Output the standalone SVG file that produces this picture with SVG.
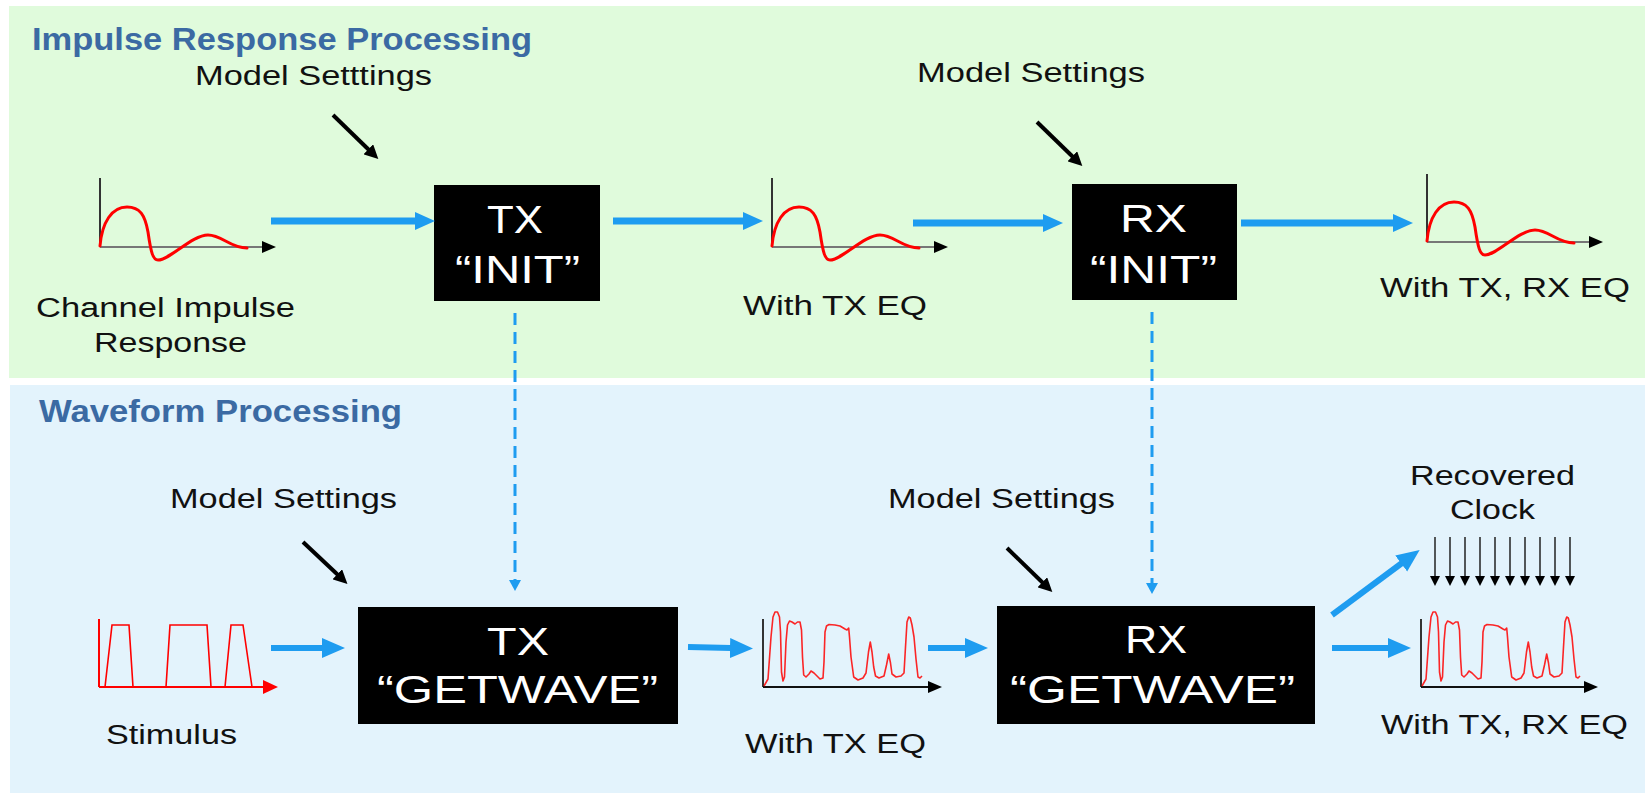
<svg xmlns="http://www.w3.org/2000/svg" width="1645" height="793" viewBox="0 0 1645 793">
<style>
.t{font-family:"Liberation Sans",Arial,sans-serif;font-size:27px;fill:#111}
.h{font-family:"Liberation Sans",Arial,sans-serif;font-size:32px;font-weight:bold;fill:#3b6aa3}
.bt{font-family:"Liberation Sans",Arial,sans-serif;font-size:39px;fill:#fff}
.box{fill:#000}
.blue{stroke:#1e9cf0;stroke-width:7;fill:none;marker-end:url(#bh)}
.blue2{stroke:#1e9cf0;stroke-width:6;fill:none;marker-end:url(#bh2)}
.dash{stroke:#1e9cf0;stroke-width:3;stroke-dasharray:12 7;fill:none;marker-end:url(#dh)}
.blk{stroke:#000;stroke-width:4;fill:none;marker-end:url(#kh)}
.clk{stroke:#222;stroke-width:1.5;fill:none;marker-end:url(#ch)}
.yax{stroke:#333;stroke-width:2;fill:none}
.xax{stroke:#777;stroke-width:2;fill:none;marker-end:url(#ah)}
.xax2{stroke:#111;stroke-width:2;fill:none;marker-end:url(#ah)}
.imp{stroke:#f00;stroke-width:3;fill:none;stroke-linecap:round}
.wav{stroke:#f00;stroke-width:1.6;fill:none;stroke-linejoin:round;stroke-opacity:0.85}
</style>
<defs>
<marker id="bh" markerUnits="userSpaceOnUse" markerWidth="20" markerHeight="20" viewBox="0 0 20 20" refX="1" refY="10" orient="auto"><path d="M0,1 L20,10 L0,19 Z" fill="#1e9cf0"/></marker>
<marker id="bh2" markerUnits="userSpaceOnUse" markerWidth="23" markerHeight="22" viewBox="0 0 23 22" refX="1" refY="11" orient="auto"><path d="M0,1 L23,11 L0,21 Z" fill="#1e9cf0"/></marker>
<marker id="dh" markerUnits="userSpaceOnUse" markerWidth="11" markerHeight="12" viewBox="0 0 11 12" refX="0" refY="6" orient="auto"><path d="M0,0 L11,6 L0,12 Z" fill="#1e9cf0"/></marker>
<marker id="kh" markerUnits="userSpaceOnUse" markerWidth="14" markerHeight="14" viewBox="0 0 14 14" refX="1" refY="7" orient="auto"><path d="M0,0 L14,7 L0,14 Z" fill="#000"/></marker>
<marker id="ch" markerUnits="userSpaceOnUse" markerWidth="10" markerHeight="10" viewBox="0 0 10 10" refX="0" refY="5" orient="auto"><path d="M0,0 L10,5 L0,10 Z" fill="#000"/></marker>
<marker id="ah" markerUnits="userSpaceOnUse" markerWidth="14" markerHeight="12" viewBox="0 0 14 12" refX="0" refY="6" orient="auto"><path d="M0,0 L14,6 L0,12 Z" fill="#000"/></marker>
<path id="impc" d="M0,-1 C2,-25 12,-40 27,-40 C40,-40 45,-32 48,-15 C51,6 53,13 58,13 C70,13 92,-12 108,-12 C122,-12 130,1 147,1"/>
<path id="wavc" d="M1,-1 L5,-8 L8,-50 L10,-70 L12,-75 L14.5,-75 L16.5,-70 L17.5,-55 L18.5,-15 L20,-6 L21.5,-10 L23,-45 L24.5,-62 L26.5,-66 L29,-65 L32,-63 L34.5,-65 L37,-65 L38.5,-57 L39.5,-30 L40.7,-12 L43,-10 L46,-13 L48,-16 L51,-14 L54,-11 L57,-8 L60,-9 L61,-25 L62,-55 L63.5,-61 L66,-62.5 L72,-62 L77,-61 L82,-58 L84,-57 L85.7,-59 L86.5,-50 L88,-30 L90.7,-10 L95,-7 L100,-9 L103,-14 L105.5,-35 L107.3,-45 L109,-35 L110.7,-20 L112.5,-11 L116,-9 L121,-11 L123.5,-22 L125.7,-33 L127.5,-24 L129,-13 L133,-10 L138,-11 L141,-14 L142.5,-40 L144,-65 L145.7,-70 L147.3,-69 L149,-62 L151,-50 L153,-28 L155,-10 L157,-9 L159,-11"/>
</defs>

<rect x="0" y="0" width="1645" height="793" fill="#fff"/>
<rect id="panel-impulse" x="9" y="6" width="1636" height="372" fill="#e0fbdc"/>
<rect id="panel-waveform" x="10" y="385" width="1635" height="408" fill="#e3f3fc"/>

<text class="h" x="32" y="50" textLength="500" lengthAdjust="spacingAndGlyphs">Impulse Response Processing</text>
<text class="h" x="39" y="422" textLength="363" lengthAdjust="spacingAndGlyphs">Waveform Processing</text>

<g id="ms1"><text class="t" x="195" y="85" textLength="237" lengthAdjust="spacingAndGlyphs">Model Setttings</text></g>
<g id="ms2"><text class="t" x="917" y="82" textLength="228" lengthAdjust="spacingAndGlyphs">Model Settings</text></g>
<g id="ms3"><text class="t" x="170" y="508" textLength="227" lengthAdjust="spacingAndGlyphs">Model Settings</text></g>
<g id="ms4"><text class="t" x="888" y="508" textLength="227" lengthAdjust="spacingAndGlyphs">Model Settings</text></g>

<g id="channel-impulse">
<line class="yax" x1="100" y1="178" x2="100" y2="247"/>
<line class="xax" x1="100" y1="247" x2="262" y2="247"/>
<use href="#impc" class="imp" transform="translate(100,247)"/>
<text class="t" x="36" y="317" textLength="259" lengthAdjust="spacingAndGlyphs">Channel Impulse</text>
<text class="t" x="94" y="352" textLength="153" lengthAdjust="spacingAndGlyphs">Response</text>
</g>

<g id="tx-init">
<rect class="box" x="434" y="185" width="166" height="116"/>
<text class="bt" x="487" y="233" textLength="56" lengthAdjust="spacingAndGlyphs">TX</text>
<text class="bt" x="455" y="283" textLength="125" lengthAdjust="spacingAndGlyphs">“INIT”</text>
</g>

<g id="impulse-tx">
<line class="yax" x1="772" y1="178" x2="772" y2="247"/>
<line class="xax" x1="772" y1="247" x2="934" y2="247"/>
<use href="#impc" class="imp" transform="translate(772,247)"/>
<text class="t" x="743" y="315" textLength="184" lengthAdjust="spacingAndGlyphs">With TX EQ</text>
</g>

<g id="rx-init">
<rect class="box" x="1072" y="184" width="165" height="116"/>
<text class="bt" x="1120" y="232" textLength="67" lengthAdjust="spacingAndGlyphs">RX</text>
<text class="bt" x="1090" y="283" textLength="127" lengthAdjust="spacingAndGlyphs">“INIT”</text>
</g>

<g id="impulse-txrx">
<line class="yax" x1="1427" y1="174" x2="1427" y2="242"/>
<line class="xax" x1="1427" y1="242" x2="1589" y2="242"/>
<use href="#impc" class="imp" transform="translate(1427,242)"/>
<text class="t" x="1380" y="297" textLength="250" lengthAdjust="spacingAndGlyphs">With TX, RX EQ</text>
</g>

<g id="stimulus">
<line x1="99" y1="619" x2="99" y2="687" stroke="#f00" stroke-width="2"/>
<line x1="99" y1="687" x2="264" y2="687" stroke="#f00" stroke-width="2"/>
<path d="M263,680 L278,687 L263,694 Z" fill="#f00"/>
<path d="M99,687 L105,687 L112,625 L129,625 L133,687 L166,687 L170,625 L207,625 L211,687 L225,687 L231,625 L243,625 L252,687" stroke="#f00" stroke-width="1.6" fill="none"/>
<text class="t" x="106" y="744" textLength="131" lengthAdjust="spacingAndGlyphs">Stimulus</text>
</g>

<g id="tx-getwave">
<rect class="box" x="358" y="607" width="320" height="117"/>
<text class="bt" x="487" y="655" textLength="62" lengthAdjust="spacingAndGlyphs">TX</text>
<text class="bt" x="377" y="703" textLength="281" lengthAdjust="spacingAndGlyphs">“GETWAVE”</text>
</g>

<g id="wave-tx">
<line class="yax" x1="763" y1="619" x2="763" y2="687" stroke="#111"/>
<line class="xax2" x1="763" y1="687" x2="928" y2="687"/>
<use href="#wavc" class="wav" transform="translate(763,687)"/>
<text class="t" x="745" y="753" textLength="181" lengthAdjust="spacingAndGlyphs">With TX EQ</text>
</g>

<g id="rx-getwave">
<rect class="box" x="997" y="606" width="318" height="118"/>
<text class="bt" x="1125" y="653" textLength="62" lengthAdjust="spacingAndGlyphs">RX</text>
<text class="bt" x="1010" y="703" textLength="285" lengthAdjust="spacingAndGlyphs">“GETWAVE”</text>
</g>

<g id="recovered-clock">
<text class="t" x="1410" y="485" textLength="165" lengthAdjust="spacingAndGlyphs">Recovered</text>
<text class="t" x="1450" y="519" textLength="85" lengthAdjust="spacingAndGlyphs">Clock</text>
<line class="clk" x1="1435" y1="537" x2="1435" y2="576"/>
<line class="clk" x1="1450" y1="537" x2="1450" y2="576"/>
<line class="clk" x1="1465" y1="537" x2="1465" y2="576"/>
<line class="clk" x1="1480" y1="537" x2="1480" y2="576"/>
<line class="clk" x1="1495" y1="537" x2="1495" y2="576"/>
<line class="clk" x1="1510" y1="537" x2="1510" y2="576"/>
<line class="clk" x1="1525" y1="537" x2="1525" y2="576"/>
<line class="clk" x1="1540" y1="537" x2="1540" y2="576"/>
<line class="clk" x1="1555" y1="537" x2="1555" y2="576"/>
<line class="clk" x1="1570" y1="537" x2="1570" y2="576"/>
</g>

<g id="wave-txrx">
<line class="yax" x1="1421" y1="619" x2="1421" y2="687" stroke="#111"/>
<line class="xax2" x1="1421" y1="687" x2="1584" y2="687"/>
<use href="#wavc" class="wav" transform="translate(1421,687)"/>
<text class="t" x="1381" y="734" textLength="247" lengthAdjust="spacingAndGlyphs">With TX, RX EQ</text>
</g>

<g id="connectors">
<line class="blue" x1="271" y1="221" x2="416" y2="221"/>
<line class="blue" x1="613" y1="221" x2="744" y2="221"/>
<line class="blue" x1="913" y1="223" x2="1044" y2="223"/>
<line class="blue" x1="1241" y1="223" x2="1394" y2="223"/>
<line class="blue2" x1="271" y1="648" x2="323" y2="648"/>
<line class="blue2" x1="688" y1="647" x2="731" y2="648"/>
<line class="blue2" x1="928" y1="648" x2="966" y2="648"/>
<line class="blue2" x1="1332" y1="648" x2="1389" y2="648"/>
<line class="blue2" x1="1332" y1="615" x2="1402" y2="563"/>
<line class="dash" x1="515" y1="313" x2="515" y2="580"/>
<line class="dash" x1="1152" y1="312" x2="1152" y2="583"/>
<line class="blk" x1="333" y1="115" x2="369" y2="150"/>
<line class="blk" x1="1037" y1="122" x2="1073" y2="157"/>
<line class="blk" x1="303" y1="542" x2="338" y2="575"/>
<line class="blk" x1="1007" y1="548" x2="1043" y2="583"/>
</g>
</svg>
